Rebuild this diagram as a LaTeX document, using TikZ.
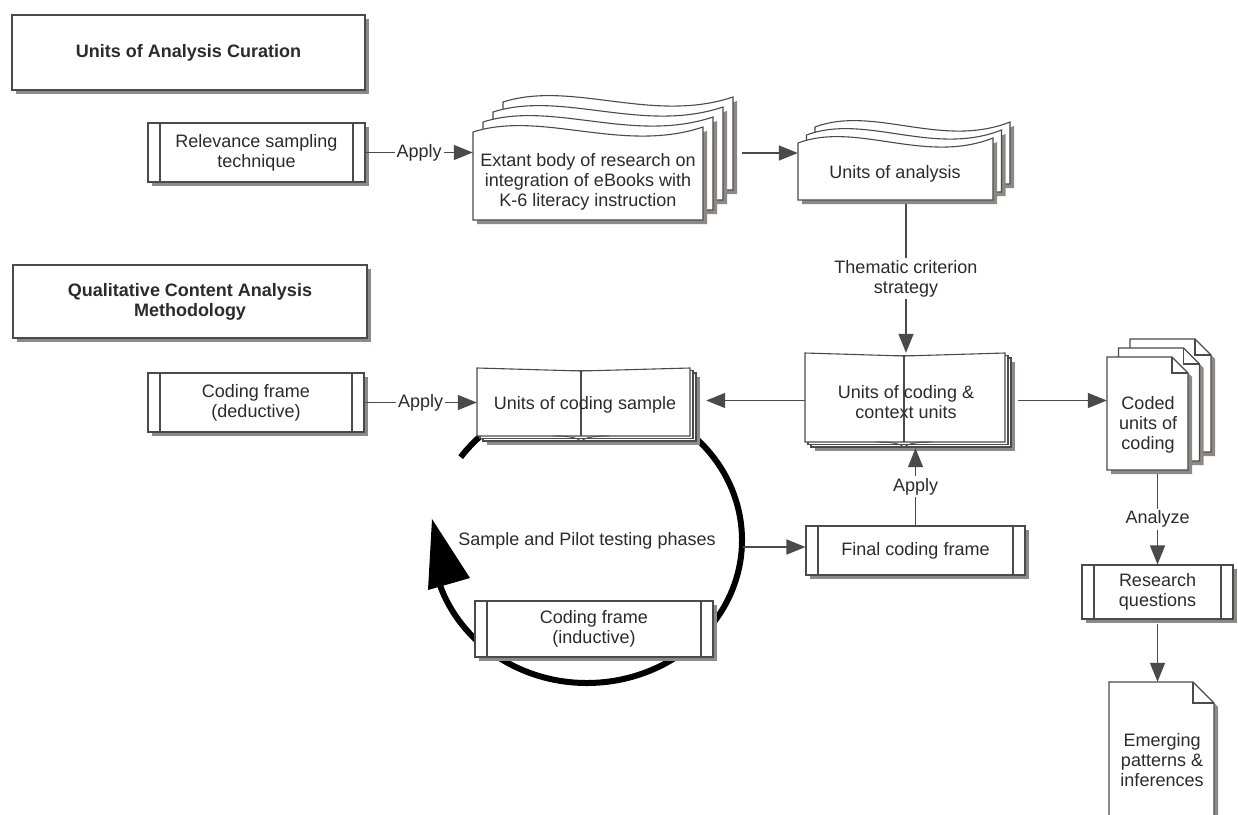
\documentclass[tikz,border=0pt]{standalone}
\usepackage{fontspec}
\setmainfont{Liberation Sans}
\usetikzlibrary{arrows.meta,shadows}
\definecolor{ln}{HTML}{4A4A4A}
\definecolor{tx}{HTML}{2B2B2B}
\definecolor{sh}{HTML}{8E8888}
\tikzset{
  every node/.style={font=\fontsize{18}{20}\selectfont, text=tx, align=center},
  shadowed/.style={drop shadow={shadow xshift=4pt, shadow yshift=-4pt, fill=sh, opacity=1}},
  titlebox/.style={draw=ln, fill=white, line width=1.2pt, shadowed, inner sep=0pt,
    font=\fontsize{18}{20}\selectfont\bfseries},
  subproc/.style={draw=ln, fill=white, line width=1.1pt, shadowed, inner sep=0pt,
    path picture={\draw[ln, line width=1.1pt]
      ([xshift=12pt]path picture bounding box.north west) -- ([xshift=12pt]path picture bounding box.south west)
      ([xshift=-12pt]path picture bounding box.north east) -- ([xshift=-12pt]path picture bounding box.south east);}},
  pg/.style={draw=ln, fill=white, line width=1.1pt},
  shd/.style={fill=sh, shift={(4,4)}},
  frame/.style={draw=none, inner sep=0pt},
  conn/.style={draw=ln, line width=1.4pt, -{Triangle[length=19pt,width=15pt]}},
  lbl/.style={fill=white, inner sep=2pt}
}
% wavy-top document page: x y w h options
\newcommand{\wavepage}[5]{\path[#5] (#1,#2) .. controls (#1+0.3*#3,#2-22) and (#1+0.65*#3,#2+22) .. (#1+#3,#2-5) -- (#1+#3,#2+#4) -- (#1,#2+#4) -- cycle;}
% dog-ear page: x y w h fold options
\newcommand{\foldpage}[6]{\path[#6] (#1,#2) -- (#1+#3-#5,#2) -- (#1+#3,#2+#5) -- (#1+#3,#2+#4) -- (#1,#2+#4) -- cycle;}
\newcommand{\foldmark}[5]{\draw[ln, line width=1.1pt] (#1+#3-#5,#2) -- (#1+#3-#5,#2+#5) -- (#1+#3,#2+#5);}
% open book: x y w h spine
\newcommand{\bookshp}[5]{%
  \fill[sh] (#1+10,#2+9) rectangle (#1+#3+10,#2+#4+9);
  \path[pg] (#1+6,#2+5) rectangle (#1+#3+6,#2+#4+5);
  \path[pg] (#1+3,#2+2.5) rectangle (#1+#3+3,#2+#4+2.5);
  \path[pg] (#1,#2) -- (#5,#2+3) -- (#1+#3,#2) -- (#1+#3,#2+#4) -- (#1,#2+#4) -- cycle;
  \draw[ln, line width=1.1pt] (#5,#2+3) -- (#5,#2+#4);
  \draw[ln, line width=0.9pt] (#5-28,#2+#4) .. controls (#5-10,#2+#4) and (#5-4,#2+#4+2) .. (#5,#2+#4+5)
     .. controls (#5+4,#2+#4+2) and (#5+10,#2+#4) .. (#5+28,#2+#4);
}
\begin{document}
\begin{tikzpicture}[x=1pt,y=-1pt]
\clip (0,0) rectangle (1238,814);
\fill[white] (0,0) rectangle (1238,814);

% ---- cycle arrow (behind) ----
\draw[black, line width=6pt] (587,540) ++(215.4:155 and 143) arc[start angle=215.4, end angle=522, x radius=155, y radius=143];
\fill[black] (428,590) -- (432,519) -- (470,578) -- cycle;

% ---- titles ----
\node[titlebox, minimum width=353pt, minimum height=75pt] (t1) at (188.5,52.5) {Units of Analysis Curation};
\node[titlebox, minimum width=354pt, minimum height=73pt] (t2) at (190,301.5) {Qualitative Content Analysis\\Methodology};

% ---- subprocess boxes ----
\node[subproc, minimum width=217pt, minimum height=59pt] (rel) at (256.5,152.5) {Relevance sampling\\technique};
\node[subproc, minimum width=216pt, minimum height=59pt] (ded) at (256,402.5) {Coding frame\\(deductive)};
\node[subproc, minimum width=219pt, minimum height=49pt] (final) at (915.5,550.5) {\raisebox{-6pt}{Final coding frame}};
\node[subproc, minimum width=238pt, minimum height=56pt] (ind) at (594,629) {Coding frame\\(inductive)};
\node[subproc, minimum width=151pt, minimum height=54pt] (rq) at (1157.5,592) {Research\\questions};

% ---- extant body (multiple wavy documents) ----
\foreach \k in {3,2,1,0}{
  \wavepage{473+10*\k}{132-10*\k}{230}{88}{shd}
  \wavepage{473+10*\k}{132-10*\k}{230}{88}{pg}
}
\node[frame, minimum width=230pt, minimum height=88pt] (extpg) at (588,176) {};
\node (exttxt) at (588,182) {Extant body of research on\\integration of eBooks with\\K-6 literacy instruction};

% ---- units of analysis ----
\foreach \k in {2,1,0}{
  \wavepage{798+8.5*\k}{143-8*\k}{195}{57}{shd}
  \wavepage{798+8.5*\k}{143-8*\k}{195}{57}{pg}
}
\node[frame, minimum width=195pt, minimum height=57pt] (uapg) at (895.5,171.5) {};
\node (uatxt) at (895,174) {Units of analysis};

% ---- books ----
\bookshp{805}{353}{200}{89}{904}
\node[frame, minimum width=213pt, minimum height=95pt] (uccpg) at (911.5,400.5) {};
\node (ucctxt) at (906,402) {Units of coding \&\\context units};

\bookshp{477}{368}{213}{68}{581}
\node[frame, minimum width=229pt, minimum height=74pt] (ucspg) at (591.5,405) {};
\node (ucstxt) at (585,405) {Units of coding sample};

% ---- coded units (multiple dog-ear pages) ----
\foreach \k in {2,1,0}{
  \foldpage{1107+11.5*\k}{357-9*\k}{81}{113}{16}{shd}
  \foldpage{1107+11.5*\k}{357-9*\k}{81}{113}{16}{pg}
  \foldmark{1107+11.5*\k}{357-9*\k}{81}{113}{16}
}
\node[frame, minimum width=81pt, minimum height=113pt] (codedpg) at (1147.5,413.5) {};
\node (codedtxt) at (1148,425) {Coded\\units of\\coding};

% ---- emerging patterns ----
\foldpage{1109}{682}{105}{150}{21}{shd}
\foldpage{1109}{682}{105}{150}{21}{pg}
\foldmark{1109}{682}{105}{150}{21}
\node[frame, minimum width=105pt, minimum height=150pt] (empg) at (1161.5,757) {};
\node (emtxt) at (1162,760) {Emerging\\patterns \&\\inferences};

% ---- cycle label ----
\node (phases) at (587,541) {Sample and Pilot testing phases};
\coordinate (cyc) at (743,547);
\coordinate (extout) at (742,153);

% ---- connectors ----
\draw[conn] (rel.east) -- node[lbl]{Apply} (rel.east -| extpg.west);
\draw[conn] (extout) -- (extout -| uapg.west);
\draw[conn] ([yshift=-4pt]uapg.south -| ucctxt.north) -- node[lbl]{Thematic criterion\\strategy} (ucctxt.north |- uccpg.north);
\draw[conn] (uccpg.west) -- (uccpg.west -| ucspg.east);
\draw[conn] (uccpg.east) -- (uccpg.east -| codedpg.west);
\draw[conn] (ded.east) -- node[lbl]{Apply} (ded.east -| ucspg.west);
\draw[conn] (final.north) -- node[lbl]{Apply} (final.north |- uccpg.south);
\draw[conn] (cyc) -- (cyc -| final.west);
\draw[conn] ([yshift=-4pt]rq.north |- codedpg.south) -- node[lbl]{Analyze} (rq.north);
\draw[conn] ([yshift=-4pt]rq.south) -- (rq.south |- empg.north);
\end{tikzpicture}
\end{document}
